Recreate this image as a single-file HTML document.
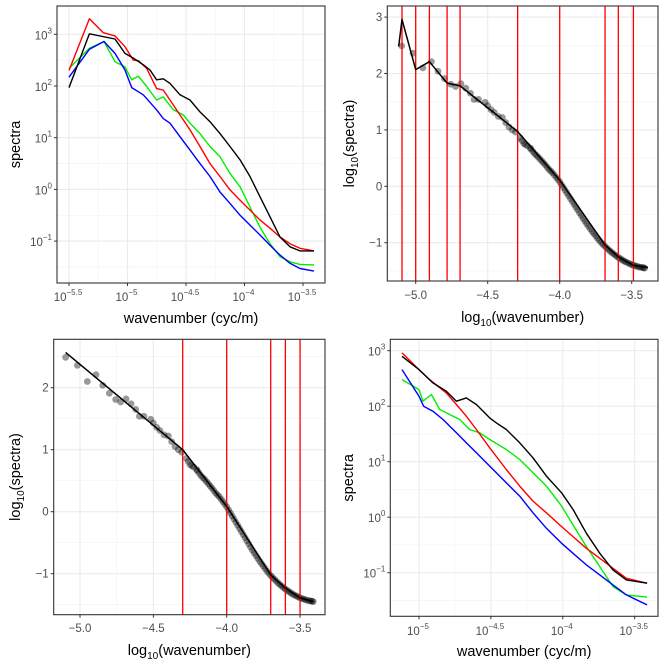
<!DOCTYPE html>
<html><head><meta charset="utf-8"><style>
body{margin:0;background:#fff}
svg{display:block;font-family:"Liberation Sans",sans-serif}
</style></head><body>
<svg id="c" width="666" height="666" xmlns="http://www.w3.org/2000/svg"></svg>
<script>
// ---------- data ----------
const p1BlackX=[-5.5,-5.326,-5.107,-5.021,-4.95,-4.865,-4.808,-4.751,-4.694,-4.637,-4.551,-4.466,-4.38,-4.295,-4.209,-4.124,-4.038,-3.953,-3.868,-3.782,-3.697,-3.611,-3.526,-3.406];
const p1BlackY=[1.97,3.01,2.91,2.63,2.54,2.41,2.31,2.12,2.14,2.05,1.83,1.73,1.50,1.31,1.08,0.83,0.57,0.25,-0.14,-0.53,-0.92,-1.11,-1.19,-1.19];
const p1RedX=[-5.5,-5.326,-5.207,-5.107,-5.021,-4.95,-4.907,-4.836,-4.751,-4.694,-4.637,-4.551,-4.466,-4.38,-4.295,-4.209,-4.124,-4.038,-3.953,-3.868,-3.782,-3.697,-3.611,-3.526,-3.406];
const p1RedY=[2.30,3.30,3.03,2.97,2.76,2.50,2.49,2.34,1.95,1.92,1.73,1.44,1.15,0.83,0.50,0.25,-0.01,-0.21,-0.40,-0.59,-0.75,-0.92,-1.05,-1.14,-1.19];
const p1GreenX=[-5.5,-5.326,-5.201,-5.107,-5.021,-4.964,-4.907,-4.836,-4.751,-4.694,-4.608,-4.523,-4.466,-4.38,-4.295,-4.209,-4.124,-4.038,-3.953,-3.868,-3.782,-3.697,-3.611,-3.526,-3.406];
const p1GreenY=[2.34,2.73,2.86,2.47,2.37,2.12,2.19,1.99,1.73,1.79,1.54,1.44,1.28,1.08,0.83,0.63,0.31,0.05,-0.34,-0.73,-1.05,-1.30,-1.40,-1.45,-1.46];
const p1BlueX=[-5.5,-5.326,-5.201,-5.107,-5.021,-4.964,-4.865,-4.751,-4.694,-4.637,-4.551,-4.466,-4.38,-4.295,-4.209,-4.124,-4.038,-3.953,-3.868,-3.782,-3.697,-3.611,-3.526,-3.406];
const p1BlueY=[2.17,2.71,2.86,2.63,2.31,1.97,1.83,1.54,1.37,1.28,1.02,0.76,0.50,0.25,-0.05,-0.27,-0.50,-0.69,-0.88,-1.08,-1.27,-1.43,-1.53,-1.58];
const ptsX=[-5.098,-5.018,-4.95,-4.891,-4.845,-4.8,-4.757,-4.723,-4.686,-4.652,-4.62,-4.595,-4.564,-4.518,-4.5,-4.477,-4.455,-4.427,-4.398,-4.375,-4.352,-4.33,-4.307,-4.275,-4.25,-4.225,-4.205,-4.2,-4.175,-4.15,-4.125,-4.1,-4.075,-4.05,-4.025,-4.0,-3.975,-3.95,-3.925,-3.9,-3.875,-3.85,-3.825,-3.8,-3.775,-3.75,-3.725,-3.7,-3.675,-3.65,-3.625,-3.6,-3.575,-3.55,-3.525,-3.5,-3.475,-3.45,-3.425,-3.41,
 -4.2625,-4.2375,-4.1875,-4.1625,-4.1375,-4.1125,-4.0875,-4.0625,-4.0375,-4.0125,-3.9875,-3.9625,-3.9375,-3.9125,-3.8875,-3.8625,-3.8375,-3.8125,-3.7875,-3.7625,-3.7375,-3.7125,-3.6875,-3.6625,-3.6375,-3.6125,-3.5875,-3.5625,-3.5375,-3.5125,-3.4875,-3.4625,-3.4375,-3.4175];
const ptsY=[2.49,2.36,2.10,2.21,2.04,1.91,1.81,1.77,1.82,1.74,1.65,1.54,1.54,1.49,1.43,1.36,1.31,1.24,1.22,1.13,1.05,1.0,0.96,0.86,0.76,0.72,0.68,0.66,0.58,0.52,0.45,0.38,0.30,0.24,0.16,0.08,-0.02,-0.12,-0.22,-0.32,-0.42,-0.52,-0.62,-0.71,-0.80,-0.88,-0.96,-1.03,-1.09,-1.15,-1.20,-1.25,-1.29,-1.33,-1.36,-1.39,-1.41,-1.43,-1.44,-1.45,
 0.81,0.74,0.62,0.55,0.485,0.415,0.34,0.27,0.2,0.12,0.03,-0.07,-0.17,-0.27,-0.37,-0.47,-0.57,-0.665,-0.755,-0.84,-0.92,-0.995,-1.06,-1.12,-1.175,-1.225,-1.27,-1.31,-1.345,-1.375,-1.40,-1.42,-1.435,-1.445];
const p2FitX=[-5.118,-5.095,-5.0,-4.905,-4.782,-4.692,-4.292,-4.0,-3.685,-3.593,-3.488,-3.387];
const p2FitY=[2.48,2.96,2.07,2.21,1.83,1.78,0.97,0.11,-1.04,-1.25,-1.40,-1.44];
const p2Breaks=[-5.095,-5.0,-4.905,-4.782,-4.692,-4.292,-4.0,-3.685,-3.593,-3.488];
const p3FitX=[-5.098,-4.3,-4.0,-3.7,-3.6,-3.5,-3.41];
const p3FitY=[2.57,1.0,0.086,-1.02,-1.23,-1.39,-1.45];
const p3Breaks=[-4.3,-4.0,-3.7,-3.6,-3.5];
const p4BlackX=[-5.118,-5,-4.903,-4.81,-4.74,-4.671,-4.601,-4.508,-4.462,-4.393,-4.3,-4.207,-4.114,-4.008,-3.929,-3.836,-3.743,-3.651,-3.558,-3.414];
const p4BlackY=[2.90,2.66,2.42,2.27,2.09,2.15,2.03,1.79,1.70,1.58,1.34,1.07,0.74,0.44,0.14,-0.29,-0.65,-0.95,-1.13,-1.19];
const p4RedX=[-5.118,-5,-4.926,-4.81,-4.74,-4.671,-4.601,-4.508,-4.393,-4.3,-4.207,-4.114,-4.008,-3.929,-3.836,-3.743,-3.651,-3.558,-3.414];
const p4RedY=[2.96,2.66,2.48,2.24,2.03,1.82,1.58,1.25,0.86,0.56,0.29,0.08,-0.17,-0.35,-0.56,-0.74,-0.92,-1.10,-1.19];
const p4GreenX=[-5.118,-5,-4.972,-4.914,-4.856,-4.787,-4.717,-4.648,-4.578,-4.508,-4.393,-4.3,-4.207,-4.114,-4.008,-3.929,-3.836,-3.743,-3.651,-3.558,-3.414];
const p4GreenY=[2.48,2.30,2.09,2.21,1.94,1.85,1.76,1.58,1.52,1.40,1.22,1.04,0.80,0.56,0.20,-0.14,-0.53,-0.89,-1.25,-1.40,-1.44];
const p4BlueX=[-5.118,-5,-4.968,-4.903,-4.833,-4.74,-4.671,-4.601,-4.508,-4.393,-4.3,-4.207,-4.114,-4.008,-3.929,-3.836,-3.743,-3.651,-3.558,-3.414];
const p4BlueY=[2.66,2.18,2.00,1.91,1.76,1.52,1.34,1.16,0.92,0.62,0.38,0.08,-0.20,-0.47,-0.65,-0.86,-1.04,-1.22,-1.40,-1.58];
const p1XTicks=[-5.5,-5,-4.5,-4,-3.5];
const p1XMinor=[-5.25,-4.75,-4.25,-3.75];
const logYTicks=[3,2,1,0,-1];
const logYMinor=[2.5,1.5,0.5,-0.5,-1.5];
const p2XTicks=[-5.0,-4.5,-4.0,-3.5];
const p2XMinor=[-4.75,-4.25,-3.75];
const p2YTicks=[3,2,1,0,-1];
const p3YTicks=[2,1,0,-1];
const p3YMinor=[2.5,1.5,0.5,-0.5,-1.5];
const p4XTicks=[-5,-4.5,-4,-3.5];

// ---------- helpers ----------
const NS="http://www.w3.org/2000/svg";
const svg=document.getElementById('c');
function mk(tag,attrs,parent){const e=document.createElementNS(NS,tag);for(const k in attrs)e.setAttribute(k,attrs[k]);(parent||svg).appendChild(e);return e;}
function supLabel(g,x,y,exp,anchor){
  const t=mk('text',{x:x,y:y,'font-size':11.5,fill:'#4d4d4d','text-anchor':anchor},g);
  
  
  t.appendChild(document.createTextNode('10'));
  const s=mk('tspan',{'font-size':8,dy:-6},t);
  s.textContent=String(exp).replace('-','\u2212');
  return t;
}
function panel(o){
  const g=mk('g',{});
  
  
  const sx=v=>o.x0+(v-o.xv0)*o.xs;
  const sy=v=>o.y0-(v-o.yv0)*o.ys;
  mk('rect',{x:o.l,y:o.t,width:o.r-o.l,height:o.b-o.t,fill:'#fff'},g);
  (o.xMinor||[]).forEach(v=>{const l=mk('line',{x1:sx(v),x2:sx(v),y1:o.t,y2:o.b,stroke:'#f2f2f2','stroke-width':0.6},g);});
  (o.yMinor||[]).forEach(v=>{const l=mk('line',{x1:o.l,x2:o.r,y1:sy(v),y2:sy(v),stroke:'#f2f2f2','stroke-width':0.6},g);});
  o.xTicks.forEach(v=>{const l=mk('line',{x1:sx(v),x2:sx(v),y1:o.t,y2:o.b,stroke:'#ebebeb','stroke-width':1.1},g);});
  o.yTicks.forEach(v=>{const l=mk('line',{x1:o.l,x2:o.r,y1:sy(v),y2:sy(v),stroke:'#ebebeb','stroke-width':1.1},g);});
  const clip='clip-'+o.name;
  const cp=mk('clipPath',{id:clip},g);mk('rect',{x:o.l,y:o.t,width:o.r-o.l,height:o.b-o.t},cp);
  const pg=mk('g',{'clip-path':'url(#'+clip+')'},g);
  
  
  (o.points||[]).forEach(p=>{p.x.forEach((v,i)=>{const c=mk('circle',{cx:sx(v),cy:sy(p.y[i]),r:3.4,fill:'rgba(0,0,0,0.4)'},pg);});});
  (o.lines||[]).forEach(s=>{
    const d=s.x.map((v,i)=>(i?'L':'M')+sx(v).toFixed(1)+' '+sy(s.y[i]).toFixed(1)).join('');
    const p=mk('path',{d:d,fill:'none',stroke:s.c,'stroke-width':s.w||1.4,'stroke-linejoin':'round'},pg);
    
    
  });
  (o.vlines||[]).forEach(v=>{const l=mk('line',{x1:sx(v),x2:sx(v),y1:o.t,y2:o.b,stroke:'#ff0000','stroke-width':1.3},pg);});
  (o.lines2||[]).forEach(s=>{
    const d=s.x.map((v,i)=>(i?'L':'M')+sx(v).toFixed(1)+' '+sy(s.y[i]).toFixed(1)).join('');
    const p=mk('path',{d:d,fill:'none',stroke:s.c,'stroke-width':s.w||1.4,'stroke-linejoin':'round'},pg);
    
    
  });
  const br=mk('rect',{x:o.l,y:o.t,width:o.r-o.l,height:o.b-o.t,fill:'none',stroke:'#333','stroke-width':1.1},g);
  
  o.xTicks.forEach(v=>{
    const tk=mk('line',{x1:sx(v),x2:sx(v),y1:o.b,y2:o.b+3,stroke:'#333','stroke-width':1},g);
    
    if(o.logX){supLabel(g,sx(v)-1,o.xlabY,v,'middle');}
    else{const t=mk('text',{x:sx(v),y:o.xlabY,'font-size':11.5,fill:'#4d4d4d','text-anchor':'middle'},g);t.textContent=v.toFixed(1).replace('-','\u2212');}
  });
  o.yTicks.forEach(v=>{
    const tk=mk('line',{x1:o.l-3,x2:o.l,y1:sy(v),y2:sy(v),stroke:'#333','stroke-width':1},g);
    
    if(o.logY){supLabel(g,o.l-5,sy(v)+5,v,'end');}
    else{const t=mk('text',{x:o.l-5,y:sy(v)+4,'font-size':11.5,fill:'#4d4d4d','text-anchor':'end'},g);t.textContent=String(v).replace('-','\u2212');}
  });
  const xt=mk('text',{x:(o.l+o.r)/2,y:o.xTitleY,'font-size':14.5,fill:'#000','text-anchor':'middle'},g);
  
  if(o.logTitles){xt.appendChild(document.createTextNode('log'));const s=mk('tspan',{'font-size':10,dy:4},xt);s.textContent='10';const s2=mk('tspan',{dy:-4},xt);s2.textContent='(wavenumber)';}
  else xt.textContent='wavenumber (cyc/m)';
  const cy=(o.t+o.b)/2;
  const yt=mk('text',{x:o.yTitleX,y:cy,'font-size':14.5,fill:'#000','text-anchor':'middle',transform:'rotate(-90 '+o.yTitleX+' '+cy+')'},g);
  
  if(o.logTitles){yt.appendChild(document.createTextNode('log'));const s=mk('tspan',{'font-size':10,dy:4},yt);s.textContent='10';const s2=mk('tspan',{dy:-4},yt);s2.textContent='(spectra)';}
  else yt.textContent='spectra';
}

panel({name:'panel-spectra-full',l:57,t:6,r:325,b:283,x0:69,xv0:-5.5,xs:117,y0:34.3,yv0:3,ys:51.7,
  xTicks:p1XTicks,xMinor:p1XMinor,yTicks:logYTicks,yMinor:logYMinor,logX:true,logY:true,
  xlabY:301,xTitleY:323,yTitleX:20,
  lines:[{x:p1GreenX,y:p1GreenY,c:'#00ee00',n:'series-green'},{x:p1BlueX,y:p1BlueY,c:'#0000ff',n:'series-blue'},{x:p1RedX,y:p1RedY,c:'#ff0000',n:'series-red'},{x:p1BlackX,y:p1BlackY,c:'#000',n:'series-black'}]});

panel({name:'panel-breakpoints-all',l:387.3,t:6,r:658,b:281,x0:415.7,xv0:-5,xs:144,y0:186.3,yv0:0,ys:56.4,
  xTicks:p2XTicks,xMinor:p2XMinor,yTicks:p2YTicks,yMinor:logYMinor,logX:false,logY:false,
  xlabY:299,xTitleY:322,yTitleX:354,logTitles:true,
  points:[{x:ptsX,y:ptsY}],vlines:p2Breaks,
  lines2:[{x:p2FitX,y:p2FitY,c:'#000',n:'piecewise-fit',w:1.5}]});

panel({name:'panel-breakpoints-trimmed',l:53.7,t:339.3,r:325,b:614.7,x0:80,xv0:-5,xs:146.7,y0:511.7,yv0:0,ys:62,
  xTicks:p2XTicks,xMinor:p2XMinor,yTicks:p3YTicks,yMinor:p3YMinor,logX:false,logY:false,
  xlabY:632,xTitleY:655,yTitleX:20,logTitles:true,
  points:[{x:ptsX,y:ptsY}],vlines:p3Breaks,
  lines2:[{x:p3FitX,y:p3FitY,c:'#000',n:'piecewise-fit',w:1.5}]});

panel({name:'panel-spectra-trimmed',l:390.3,t:339.3,r:658,b:616.3,x0:419,xv0:-5,xs:143.8,y0:350.7,yv0:3,ys:55.5,
  xTicks:p4XTicks,xMinor:p2XMinor,yTicks:logYTicks,yMinor:logYMinor,logX:true,logY:true,
  xlabY:635,xTitleY:656,yTitleX:353,
  lines:[{x:p4GreenX,y:p4GreenY,c:'#00ee00',n:'series-green'},{x:p4BlueX,y:p4BlueY,c:'#0000ff',n:'series-blue'},{x:p4RedX,y:p4RedY,c:'#ff0000',n:'series-red'},{x:p4BlackX,y:p4BlackY,c:'#000',n:'series-black'}]});
</script>
</body></html>
